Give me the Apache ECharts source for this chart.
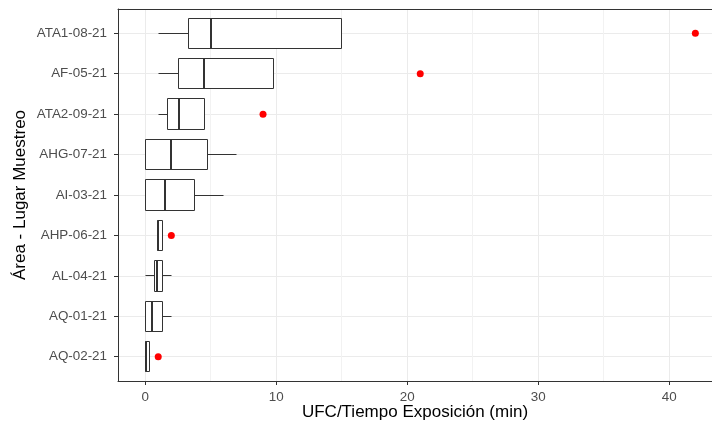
<!DOCTYPE html>
<html>
<head>
<meta charset="utf-8">
<title>UFC por área</title>
<script src="https://cdn.jsdelivr.net/npm/echarts@6/dist/echarts.min.js"></script>
<style>
  html, body { margin: 0; padding: 0; background: #ffffff; }
  #chart { width: 712px; height: 425px; }
</style>
</head>
<body>
<div id="chart"></div>
<script>
// Sampling sites, top to bottom
const categories = ['ATA1-08-21', 'AF-05-21', 'ATA2-09-21', 'AHG-07-21', 'AI-03-21', 'AHP-06-21', 'AL-04-21', 'AQ-01-21', 'AQ-02-21'];

// Box statistics (UFC per minute of exposure)
const whiskerLow  = [1.0, 1.0, 1.0, 0.0, 0.0, 0.95, 0.0, 0.0, 0.0];
const q1          = [3.3, 2.57, 1.73, 0.0, 0.0, 0.95, 0.72, 0.0, 0.0];
const median      = [5.0, 4.5, 2.55, 1.98, 1.52, 0.97, 0.9, 0.52, 0.03];
const q3          = [15.0, 9.77, 4.55, 4.76, 3.74, 1.33, 1.32, 1.32, 0.31];
const whiskerHigh = [15.0, 9.77, 4.55, 7.0, 6.0, 1.33, 2.0, 2.0, 0.31];

// Outlying observations
const outlierCategories = ['ATA1-08-21', 'AF-05-21', 'ATA2-09-21', 'AHP-06-21', 'AQ-02-21'];
const outlierValues = [42, 21, 9, 2, 1];

// Axis ticks
const xTicks = [0, 10, 20, 30, 40];
const xMinorTicks = [5, 15, 25, 35];
const yTicks = categories.map((c, i) => i + 1);

const boxData = categories.map((c, i) => [i + 1, whiskerLow[i], q1[i], median[i], q3[i], whiskerHigh[i]]);
const outlierData = outlierCategories.map((c, k) => [outlierValues[k], categories.indexOf(c) + 1]);

const LINE = '#333333';
const FONT = 'Liberation Sans, Arial, sans-serif';
const X_MIN = -2.07, X_MAX = 43.27;
const crisp = v => Math.round(v - 0.5) + 0.5;

function renderBox(params, api) {
  const y = api.value(0);
  const lo = api.value(1), a = api.value(2), m = api.value(3), b = api.value(4), hi = api.value(5);
  const half = 0.375;
  const pA = api.coord([a, y - half]);
  const pB = api.coord([b, y + half]);
  const pLo = api.coord([lo, y]);
  const pHi = api.coord([hi, y]);
  const pM = api.coord([m, y]);
  const x1 = crisp(Math.min(pA[0], pB[0]));
  const x2 = crisp(Math.max(pA[0], pB[0]));
  const yTop = crisp(Math.min(pA[1], pB[1]));
  const yBot = crisp(Math.max(pA[1], pB[1]));
  const yc = crisp(pM[1]);
  const children = [];
  if (pA[0] - pLo[0] > 0.5) {
    children.push({ type: 'line', shape: { x1: crisp(pLo[0]), y1: yc, x2: x1, y2: yc }, style: { stroke: LINE, lineWidth: 1 } });
  }
  if (pHi[0] - pB[0] > 0.5) {
    children.push({ type: 'line', shape: { x1: x2, y1: yc, x2: crisp(pHi[0]), y2: yc }, style: { stroke: LINE, lineWidth: 1 } });
  }
  children.push({ type: 'rect', shape: { x: x1, y: yTop, width: x2 - x1, height: yBot - yTop }, style: { fill: '#ffffff', stroke: LINE, lineWidth: 1 } });
  const mx = Math.round(pM[0]);
  children.push({ type: 'line', shape: { x1: mx, y1: yTop, x2: mx, y2: yBot }, style: { stroke: LINE, lineWidth: 2 } });
  return { type: 'group', children: children };
}

const chart = echarts.init(document.getElementById('chart'), null, { renderer: 'canvas' });

chart.setOption({
  animation: false,
  backgroundColor: '#ffffff',
  textStyle: { fontFamily: FONT },
  grid: {
    left: 118, top: 9, right: 0, bottom: 44,
    show: false, containLabel: false, outerBoundsMode: 'none'
  },
  xAxis: [
    {
      type: 'value', min: X_MIN, max: X_MAX, position: 'bottom',
      name: 'UFC/Tiempo Exposición (min)',
      nameLocation: 'middle', nameGap: 23, nameMoveOverlap: false,
      nameTextStyle: { color: '#000000', fontSize: 17, fontFamily: FONT },
      axisLine: { show: true, onZero: false, lineStyle: { color: LINE, width: 1 } },
      axisTick: { show: true, length: 4, customValues: xTicks, lineStyle: { color: LINE, width: 1 } },
      axisLabel: { customValues: xTicks, color: '#4D4D4D', fontSize: 13.4, margin: 10, fontFamily: FONT },
      splitLine: { show: true, lineStyle: { color: '#EBEBEB', width: 1 } }
    },
    {
      // minor vertical grid lines
      type: 'value', min: X_MIN, max: X_MAX, position: 'bottom',
      axisLine: { show: false, onZero: false },
      axisTick: { show: false, customValues: xMinorTicks },
      axisLabel: { show: false, customValues: xMinorTicks },
      splitLine: { show: true, lineStyle: { color: '#F2F2F2', width: 1 } }
    },
    {
      // top edge of the panel
      type: 'value', min: X_MIN, max: X_MAX, position: 'top',
      axisLine: { show: true, onZero: false, lineStyle: { color: LINE, width: 1 } },
      axisTick: { show: false },
      axisLabel: { show: false },
      splitLine: { show: false }
    }
  ],
  yAxis: {
    type: 'value', min: 0.4, max: 9.6, inverse: true,
    name: 'Área - Lugar Muestreo',
    nameLocation: 'middle', nameGap: 89, nameMoveOverlap: false,
    nameTextStyle: { color: '#000000', fontSize: 17, fontFamily: FONT },
    axisLine: { show: true, onZero: false, lineStyle: { color: LINE, width: 1 } },
    axisTick: { show: true, length: 4, customValues: yTicks, lineStyle: { color: LINE, width: 1 } },
    axisLabel: {
      customValues: yTicks, color: '#4D4D4D', fontSize: 13.4, margin: 11,
      fontFamily: FONT,
      formatter: v => categories[Math.round(v) - 1] || ''
    },
    splitLine: { show: true, lineStyle: { color: '#EBEBEB', width: 1 } }
  },
  series: [
    {
      type: 'custom',
      name: 'caja',
      xAxisIndex: 0,
      renderItem: renderBox,
      encode: { x: [1, 2, 3, 4, 5], y: 0 },
      data: boxData,
      z: 3
    },
    {
      type: 'scatter',
      name: 'atípicos',
      xAxisIndex: 0,
      symbol: 'circle',
      symbolSize: 7,
      itemStyle: { color: '#FF0000', opacity: 1 },
      data: outlierData,
      z: 4
    }
  ]
});
</script>
</body>
</html>
